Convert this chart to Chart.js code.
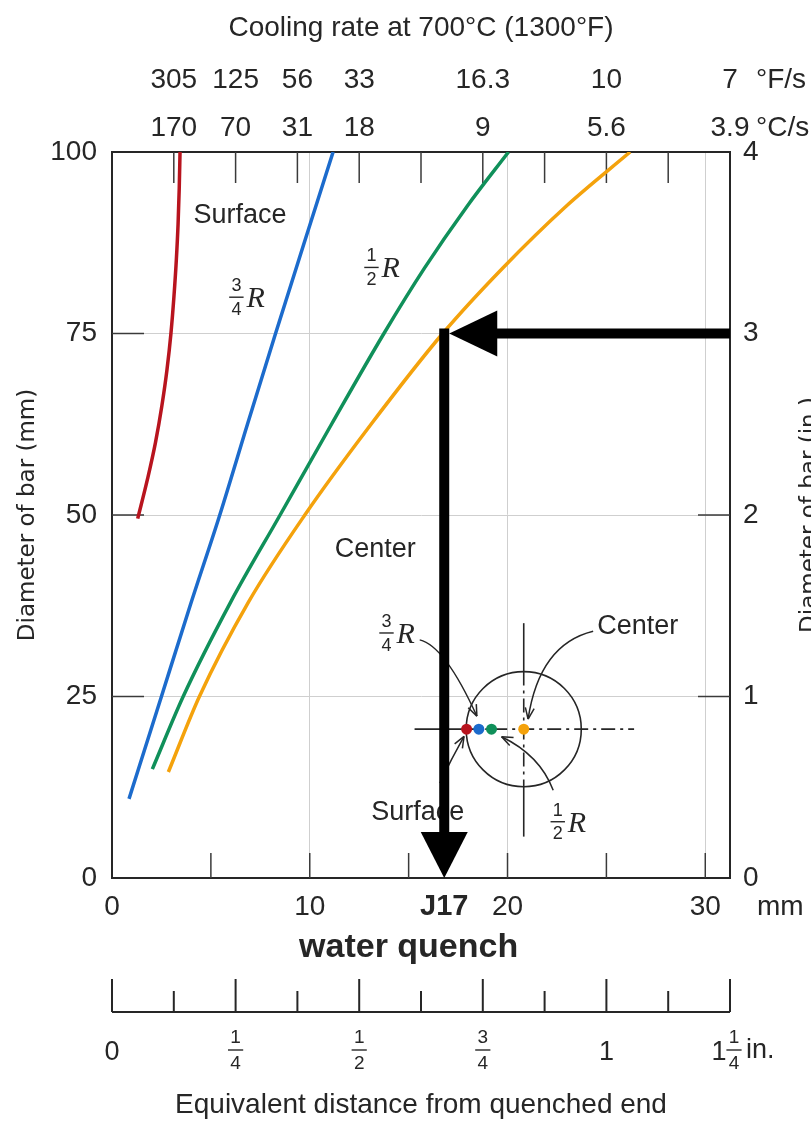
<!DOCTYPE html>
<html>
<head>
<meta charset="utf-8">
<script src="https://cdn.jsdelivr.net/npm/chart.js@4.4.1/dist/chart.umd.min.js"></script>
<style>
  html, body { margin: 0; padding: 0; background: #fff; }
  #wrap { width: 811px; height: 1126px; }
</style>
</head>
<body>
<div id="wrap"><canvas id="jominy" width="811" height="1126"></canvas></div>
<script>
// equivalent distance from quenched end (mm) for each bar diameter (mm)
const surfaceDia = [49.5, 55, 60, 65, 70, 75, 80, 85, 90, 95, 100];
const surfaceDist = [1.3, 1.8, 2.2, 2.52, 2.78, 2.98, 3.13, 3.25, 3.34, 3.4, 3.44];
const r34Dia = [10.9, 25, 37.5, 50, 62.5, 75, 87.5, 100];
const r34Dist = [0.86, 2.5, 3.95, 5.45, 6.85, 8.27, 9.72, 11.18];
const r12Dia = [15, 25, 38, 50, 62.5, 75, 84, 92.5, 100];
const r12Dist = [2.04, 3.6, 6.0, 8.5, 11.1, 13.75, 15.8, 17.95, 20.05];
const centerDia = [14.6, 25, 38, 50, 62.5, 75, 84, 92.5, 100];
const centerDist = [2.85, 4.42, 6.9, 9.75, 13.1, 16.72, 19.75, 22.95, 26.2];

// the four positions of the cross-section sketch
const dotDist = [17.93, 18.55, 19.19, 20.82];
const dotDia = 20.5;

// top axis: cooling rate at 700 C, placed every 1/8 in
const coolRatePos = [3.125, 6.25, 9.375, 12.5, 18.75, 25, 31.25];
const coolRateF = ['305', '125', '56', '33', '16.3', '10', '7'];
const coolRateC = ['170', '70', '31', '18', '9', '5.6', '3.9'];

// lower inch scale
const inchTicks = [0, 0.25, 0.5, 0.75, 1, 1.25];
const inchLabels = [['0'], ['1', '4'], ['1', '2'], ['3', '4'], ['1'], ['1', '1', '4']];

// worked example: 75 mm bar, center position -> J17
const readDia = 75;
const readDist = 16.8;

const xMax = 31.25;
const mmPerInch = 25;   // scale used on this figure
const SANS = '"Liberation Sans", Arial, sans-serif';
const VERA = '"DejaVu Sans", sans-serif';
const SERIF = '"Liberation Serif", serif';
const INK = '#262626';

const colors = { surface: '#b8141e', r34: '#1c6bcc', r12: '#10905a', center: '#f4a20c' };

function pts(xs, ys) { return xs.map((v, i) => ({ x: v, y: ys[i] })); }

// annotation layout (data units)
const plotNotes = [
  { text: 'Surface', x: 6.47, y: 91.2 },
  { text: 'Center', x: 13.31, y: 45.3 },
  { text: 'Surface', x: 15.46, y: 8.95 },
  { text: 'Center', x: 26.59, y: 34.57 }
];
const fracNotes = [
  { num: '3', den: '4', x: 6.29, y: 80.0 },
  { num: '1', den: '2', x: 13.12, y: 84.1 },
  { num: '3', den: '4', x: 13.88, y: 33.75 },
  { num: '1', den: '2', x: 22.54, y: 7.75 }
];
const leaders = [
  { from: [15.56, 32.8], ctrl: [16.83, 32.0], to: [18.45, 22.3] },
  { from: [16.58, 13.09], ctrl: [17.18, 16.5], to: [17.8, 19.5] },
  { from: [22.31, 12.1], ctrl: [21.63, 16.94], to: [19.7, 19.46] },
  { from: [24.33, 34.0], ctrl: [21.61, 32.2], to: [21.04, 21.9] }
];
const sketch = { x: 20.82, y: 20.5, r: 2.91, left: 15.3, right: 26.4, top: 35.1, bottom: 5.7 };

function seg(ctx, x1, y1, x2, y2) {
  ctx.beginPath(); ctx.moveTo(x1, y1); ctx.lineTo(x2, y2); ctx.stroke();
}

function frac(ctx, cx, cy, num, den, size) {
  ctx.font = size + 'px ' + SANS;
  ctx.textAlign = 'center';
  ctx.textBaseline = 'middle';
  ctx.fillText(num, cx, cy - size * 0.62);
  ctx.fillText(den, cx, cy + size * 0.7);
  ctx.lineWidth = 1.4;
  seg(ctx, cx - size * 0.4, cy, cx + size * 0.4, cy);
}

const decorations = {
  id: 'decorations',
  beforeDatasetsDraw(chart) {
    const { ctx, chartArea: a, scales: { x, y } } = chart;
    const X = v => x.getPixelForValue(v);
    const Y = v => y.getPixelForValue(v);
    ctx.save();
    ctx.strokeStyle = '#3a3a3a';
    ctx.lineWidth = 1.5;
    // inner ticks
    for (let k = 1; k < 10; k++) seg(ctx, X(k * mmPerInch / 8), a.top, X(k * mmPerInch / 8), a.top + 31);
    for (let v = 5; v <= 30; v += 5) seg(ctx, X(v), a.bottom, X(v), a.bottom - 25);
    [25, 50, 75].forEach(v => {
      seg(ctx, a.left, Y(v), a.left + 32, Y(v));
      seg(ctx, a.right, Y(v), a.right - 32, Y(v));
    });

    // cross-section sketch
    const cx = X(sketch.x), cy = Y(sketch.y), r = X(sketch.x + sketch.r) - cx;
    ctx.strokeStyle = INK;
    ctx.lineWidth = 1.6;
    ctx.beginPath(); ctx.arc(cx, cy, r, 0, Math.PI * 2); ctx.stroke();
    seg(ctx, X(sketch.left), cy, cx - r, cy);
    seg(ctx, cx, Y(sketch.top), cx, cy - r);
    seg(ctx, cx, cy + r, cx, Y(sketch.bottom));
    ctx.setLineDash([14, 5, 3, 5]);
    seg(ctx, cx - r, cy, X(sketch.right), cy);
    seg(ctx, cx, cy - r, cx, cy + r);
    ctx.setLineDash([]);

    // leaders with open arrow heads
    ctx.lineWidth = 1.5;
    leaders.forEach(l => {
      const p0 = [X(l.from[0]), Y(l.from[1])], c = [X(l.ctrl[0]), Y(l.ctrl[1])], p1 = [X(l.to[0]), Y(l.to[1])];
      ctx.beginPath(); ctx.moveTo(p0[0], p0[1]); ctx.quadraticCurveTo(c[0], c[1], p1[0], p1[1]); ctx.stroke();
      const ang = Math.atan2(p1[1] - c[1], p1[0] - c[0]);
      [0.38, -0.38].forEach(d => seg(ctx, p1[0], p1[1], p1[0] - 12 * Math.cos(ang + d), p1[1] - 12 * Math.sin(ang + d)));
    });

    // labels inside the plot
    ctx.fillStyle = INK;
    ctx.strokeStyle = INK;
    plotNotes.forEach(n => {
      ctx.font = '27px ' + SANS;
      ctx.textAlign = 'center';
      ctx.textBaseline = 'middle';
      ctx.fillText(n.text, X(n.x), Y(n.y));
    });
    fracNotes.forEach(n => {
      const fx = X(n.x), fy = Y(n.y);
      frac(ctx, fx, fy, n.num, n.den, 18);
      ctx.font = 'italic 30px ' + SERIF;
      ctx.textAlign = 'left';
      ctx.textBaseline = 'middle';
      ctx.fillText('R', fx + 10, fy + 2);
    });
    ctx.restore();
  },
  afterDatasetsDraw(chart) {
    const { ctx, chartArea: a, scales: { x, y } } = chart;
    const ax = x.getPixelForValue(readDist), ay = y.getPixelForValue(readDia);
    const w = 10;
    ctx.save();
    ctx.fillStyle = '#000';
    // horizontal arrow from the right edge to the curve
    ctx.fillRect(ax + w / 2 + 46, ay - w / 2, a.right - (ax + w / 2 + 46), w);
    ctx.beginPath();
    ctx.moveTo(ax + w / 2, ay); ctx.lineTo(ax + w / 2 + 48, ay - 23); ctx.lineTo(ax + w / 2 + 48, ay + 23);
    ctx.closePath(); ctx.fill();
    // vertical arrow down to the distance axis
    ctx.fillRect(ax - w / 2, ay - w / 2, w, a.bottom - 45 - (ay - w / 2));
    ctx.beginPath();
    ctx.moveTo(ax, a.bottom); ctx.lineTo(ax - 23.5, a.bottom - 46); ctx.lineTo(ax + 23.5, a.bottom - 46);
    ctx.closePath(); ctx.fill();
    ctx.restore();
  },
  afterDraw(chart) {
    const { ctx, chartArea: a, scales: { x } } = chart;
    const X = v => x.getPixelForValue(v);
    ctx.save();
    ctx.fillStyle = INK;
    ctx.strokeStyle = INK;
    ctx.textBaseline = 'middle';

    // units next to the axes
    ctx.font = '28px ' + SANS;
    ctx.textAlign = 'left';
    ctx.fillText('°F/s', a.right + 26, a.top - 72);
    ctx.fillText('°C/s', a.right + 26, a.top - 24);
    ctx.fillText('mm', a.right + 27, a.bottom + 29);

    ctx.textAlign = 'center';
    ctx.font = 'bold 29px ' + SANS;
    ctx.fillText('J17', X(readDist), a.bottom + 29);
    ctx.font = 'bold 34px ' + SANS;
    ctx.fillText('water quench', X(15), a.bottom + 70);

    // inch scale
    const base = a.bottom + 134;
    ctx.lineWidth = 2;
    seg(ctx, X(0), base, X(xMax), base);
    for (let k = 0; k <= 10; k++) {
      const p = X(k * mmPerInch / 8);
      seg(ctx, p, base, p, base - (k % 2 === 0 ? 33 : 21));
    }
    inchTicks.forEach((v, i) => {
      const p = X(v * mmPerInch);
      const lab = inchLabels[i];
      if (lab.length === 1) {
        ctx.font = '27px ' + SANS;
        ctx.textAlign = 'center';
        ctx.fillText(lab[0], p, base + 41);
      } else if (lab.length === 2) {
        frac(ctx, p, base + 38, lab[0], lab[1], 19);
      } else {
        ctx.font = '27px ' + SANS;
        ctx.textAlign = 'center';
        ctx.fillText(lab[0], p - 11, base + 41);
        frac(ctx, p + 4, base + 38, lab[1], lab[2], 19);
        ctx.font = '27px ' + SANS;
        ctx.textAlign = 'left';
        ctx.fillText('in.', p + 16, base + 39);
      }
    });
    ctx.font = '28px ' + SANS;
    ctx.textAlign = 'center';
    ctx.fillText('Equivalent distance from quenched end', (a.left + a.right) / 2, base + 93);

    // side titles
    ctx.font = '23px ' + VERA;
    ctx.textBaseline = 'alphabetic';
    const mid = (a.top + a.bottom) / 2;
    ctx.translate(34, mid); ctx.rotate(-Math.PI / 2);
    ctx.fillText('Diameter of bar (mm)', 0, 0);
    ctx.setTransform(1, 0, 0, 1, 0, 0);
    ctx.translate(816, mid); ctx.rotate(-Math.PI / 2);
    ctx.fillText('Diameter of bar (in.)', 0, 0);
    ctx.restore();
  }
};

const lineSet = (label, xs, ys, color) => ({
  label, data: pts(xs, ys), showLine: true, borderColor: color, borderWidth: 3.5,
  pointRadius: 0, cubicInterpolationMode: 'monotone', fill: false
});

new Chart(document.getElementById('jominy'), {
  type: 'scatter',
  data: {
    datasets: [
      lineSet('Surface', surfaceDist, surfaceDia, colors.surface),
      lineSet('3/4 R', r34Dist, r34Dia, colors.r34),
      lineSet('1/2 R', r12Dist, r12Dia, colors.r12),
      lineSet('Center', centerDist, centerDia, colors.center),
      {
        label: 'section',
        data: dotDist.map(v => ({ x: v, y: dotDia })),
        pointRadius: 5.5,
        pointBorderWidth: 0,
        pointBackgroundColor: [colors.surface, colors.r34, colors.r12, colors.center]
      }
    ]
  },
  options: {
    responsive: false,
    animation: false,
    devicePixelRatio: 1,
    layout: { padding: 0 },
    plugins: { legend: { display: false }, tooltip: { enabled: false } },
    scales: {
      x: {
        type: 'linear', position: 'bottom', min: 0, max: xMax,
        afterFit: s => { s.height = 248; },
        ticks: { stepSize: 10, includeBounds: false, maxRotation: 0, padding: 12, color: INK, font: { size: 28, family: SANS } },
        grid: { color: '#cfcfcf', lineWidth: 1, drawTicks: false },
        border: { color: INK, width: 2 }
      },
      x2: {
        type: 'linear', position: 'top', min: 0, max: xMax,
        afterFit: s => { s.height = 152; },
        afterBuildTicks: s => { s.ticks = coolRatePos.map(v => ({ value: v })); },
        ticks: {
          autoSkip: false, maxRotation: 0, padding: 0, color: INK,
          font: { size: 28, family: SANS, lineHeight: 48 / 28 },
          callback: (v, i) => [coolRateF[i], coolRateC[i]]
        },
        grid: { display: false, drawTicks: false },
        border: { color: INK, width: 2 },
        title: { display: true, text: 'Cooling rate at 700°C (1300°F)', color: INK, font: { size: 28, family: SANS }, padding: { top: 11, bottom: 0 } }
      },
      y: {
        type: 'linear', position: 'left', min: 0, max: 100,
        afterFit: s => { s.width = 112; },
        ticks: { stepSize: 25, padding: 15, color: INK, font: { size: 28, family: SANS } },
        grid: { color: '#cfcfcf', lineWidth: 1, drawTicks: false },
        border: { color: INK, width: 2 }
      },
      y2: {
        type: 'linear', position: 'right', min: 0, max: 4,
        afterFit: s => { s.width = 81; },
        ticks: { stepSize: 1, padding: 13, color: INK, font: { size: 28, family: SANS } },
        grid: { display: false, drawTicks: false },
        border: { color: INK, width: 2 }
      }
    }
  },
  plugins: [decorations]
});
</script>
</body>
</html>
